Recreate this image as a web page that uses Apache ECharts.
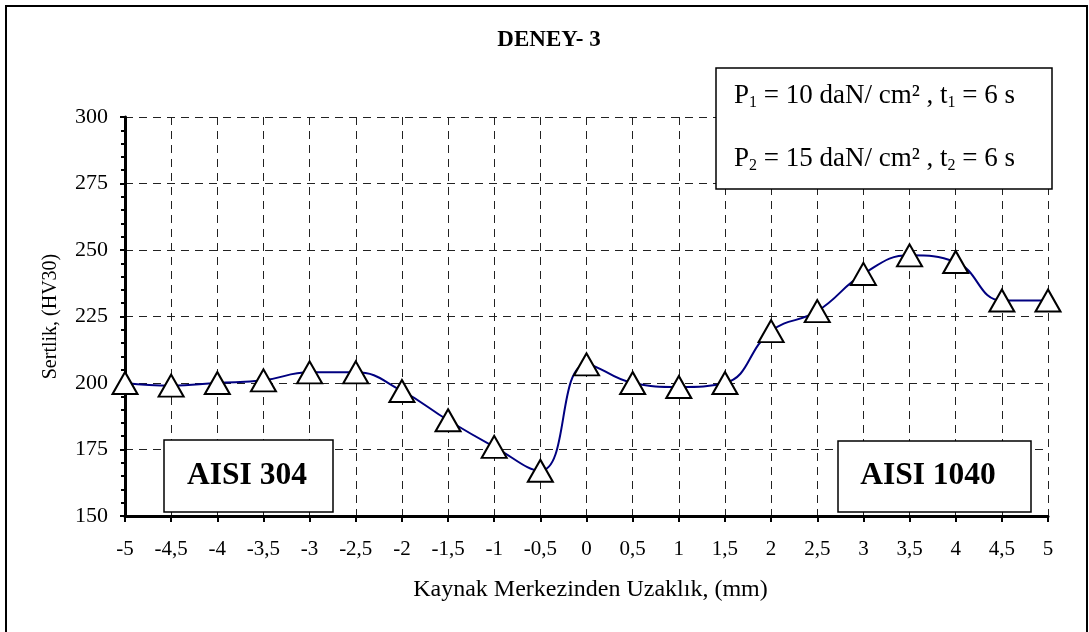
<!DOCTYPE html>
<html>
<head>
<meta charset="utf-8">
<script src="https://cdn.jsdelivr.net/npm/echarts@6/dist/echarts.min.js"></script>
<style>
  html, body { margin: 0; padding: 0; background: #fff; font-family: "Liberation Serif", serif; }
  #chart { width: 1089px; height: 632px; }
</style>
</head>
<body>
<div id="chart"></div>
<script>
// Distance from the weld centre (mm) — also used as tick labels
const distances = ['-5', '-4,5', '-4', '-3,5', '-3', '-2,5', '-2', '-1,5', '-1', '-0,5',
                   '0', '0,5', '1', '1,5', '2', '2,5', '3', '3,5', '4', '4,5', '5'];
// Hardness HV30 measured at each distance
const hardness = [200, 199, 200, 201, 204, 204, 197, 186, 176, 167,
                  207, 200, 198.5, 200, 219.5, 227, 241, 248, 245.5, 231, 231];

const titleText = 'DENEY- 3';
const xName = 'Kaynak Merkezinden Uzaklık, (mm)';
const yName = 'Sertlik, (HV30)';
const leftMaterial = 'AISI 304';
const rightMaterial = 'AISI 1040';
const paramLines = [
  '{t|P}{s|1}{t| = 10 daN/ cm² , t}{s|1}{t| = 6 s}',
  '{t|P}{s|2}{t| = 15 daN/ cm² , t}{s|2}{t| = 6 s}'
];

const FONT = 'Liberation Serif';

const chart = echarts.init(document.getElementById('chart'), null, { renderer: 'canvas' });

const boxStyle = { fill: '#fff', stroke: '#000', lineWidth: 1.5 };
const richParams = {
  t: { fontFamily: FONT, fontSize: 27, fill: '#000', lineHeight: 30 },
  s: { fontFamily: FONT, fontSize: 16, fill: '#000', lineHeight: 30, verticalAlign: 'bottom' }
};

chart.setOption({
  animation: false,
  backgroundColor: '#fff',
  textStyle: { fontFamily: FONT },
  grid: { left: 125, right: 41, top: 117, bottom: 116, containLabel: false },
  xAxis: {
    type: 'category',
    data: distances,
    boundaryGap: false,
    name: xName,
    nameLocation: 'middle',
    nameGap: 62,
    nameTextStyle: { fontFamily: FONT, fontSize: 24, color: '#000', padding: [0, 0, 0, 8] },
    axisLine: { lineStyle: { color: '#000', width: 3 } },
    axisTick: { show: true, length: 6, lineStyle: { color: '#000', width: 2 } },
    axisLabel: { fontFamily: FONT, fontSize: 21, color: '#000', margin: 23 },
    splitLine: { show: true, lineStyle: { color: '#222', width: 1, type: [8, 6] } }
  },
  yAxis: {
    type: 'value',
    min: 150,
    max: 300,
    interval: 25,
    name: yName,
    nameLocation: 'middle',
    nameGap: 64,
    nameTextStyle: { fontFamily: FONT, fontSize: 20, color: '#000' },
    axisLine: { show: true, lineStyle: { color: '#000', width: 3 } },
    axisTick: { show: true, length: 5, lineStyle: { color: '#000', width: 2 } },
    minorTick: { show: true, splitNumber: 5, length: 4, lineStyle: { color: '#000', width: 2 } },
    axisLabel: { fontFamily: FONT, fontSize: 22, color: '#000', margin: 17 },
    splitLine: { show: true, lineStyle: { color: '#222', width: 1, type: [8, 6] } }
  },
  series: [{
    type: 'line',
    data: hardness,
    smooth: 0.45,
    lineStyle: { color: '#000080', width: 2 },
    symbol: 'triangle',
    symbolSize: [25, 22],
    itemStyle: { color: '#fff', borderColor: '#000', borderWidth: 2 },
    z: 3
  }],
  graphic: [
    // outer frame
    { type: 'rect', shape: { x: 6, y: 6, width: 1081, height: 640 },
      style: { fill: 'none', stroke: '#000', lineWidth: 2 }, silent: true, z: 1 },
    { type: 'text', x: 549, y: 40,
      style: { text: titleText, fontFamily: FONT, fontSize: 23, fontWeight: 'bold',
               fill: '#000', align: 'center', verticalAlign: 'middle' }, z: 10 },
    // parameter box
    { type: 'rect', shape: { x: 716, y: 68, width: 336, height: 121 }, style: boxStyle, z: 10 },
    { type: 'text', x: 734, y: 96,
      style: { text: paramLines[0], align: 'left', verticalAlign: 'middle', rich: richParams },
      z: 11 },
    { type: 'text', x: 734, y: 159,
      style: { text: paramLines[1], align: 'left', verticalAlign: 'middle', rich: richParams },
      z: 11 },
    // material boxes
    { type: 'rect', shape: { x: 164, y: 440, width: 169, height: 72 }, style: boxStyle, z: 10 },
    { type: 'text', x: 247, y: 476,
      style: { text: leftMaterial, fontFamily: FONT, fontSize: 31.5, fontWeight: 'bold',
               fill: '#000', align: 'center', verticalAlign: 'middle' }, z: 11 },
    { type: 'rect', shape: { x: 838, y: 441, width: 193, height: 71 }, style: boxStyle, z: 10 },
    { type: 'text', x: 928, y: 476,
      style: { text: rightMaterial, fontFamily: FONT, fontSize: 31.5, fontWeight: 'bold',
               fill: '#000', align: 'center', verticalAlign: 'middle' }, z: 11 }
  ]
});
</script>
</body>
</html>
